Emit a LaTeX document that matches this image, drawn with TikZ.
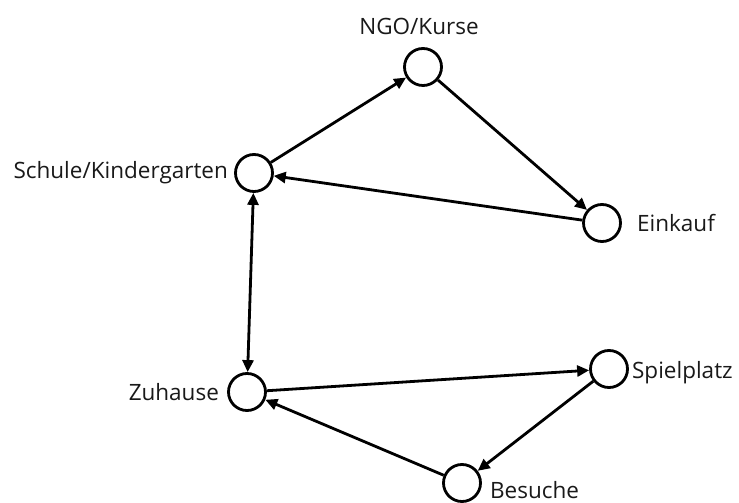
\documentclass[tikz,border=0pt]{standalone}
\usepackage{fontspec}
\setmainfont{Open Sans}
\usepackage{tikz}
\usetikzlibrary{arrows.meta, positioning}

\begin{document}
\begin{tikzpicture}[
    x=1pt, y=1pt,
    place/.style={draw, circle, line width=2.8pt, minimum size=37pt, inner sep=0pt, fill=white},
    lbl/.style={font=\fontsize{22.5}{27}\selectfont, inner sep=0pt, text=black!90},
    edge/.style={-{Triangle[length=12pt, width=11pt]}, line width=2.8pt},
    both/.style={{Triangle[length=12pt, width=11pt]}-{Triangle[length=12pt, width=11pt]}, line width=2.8pt}
]
    \useasboundingbox (0, 0) rectangle (739, 503);

    % Places
    \node[place] (ngo) at (423, 436) {};
    \node[place] (schule) at (254, 330) {};
    \node[place] (einkauf) at (602, 280) {};
    \node[place] (zuhause) at (247, 111) {};
    \node[place] (spiel) at (609, 134) {};
    \node[place] (besuche) at (462, 20) {};

    % Labels
    \node[lbl, above=12pt of ngo, xshift=-4pt] (ngolbl) {NGO/Kurse};
    \node[lbl, left=6pt of schule] (schulelbl) {Schule/Kindergarten};
    \node[lbl, right=15pt of einkauf] (einkauflbl) {Einkauf};
    \node[lbl, left=8pt of zuhause] (zuhauselbl) {Zuhause};
    \node[lbl, right=3pt of spiel, yshift=-4pt] (spiellbl) {Spielplatz};
    \node[lbl, right=8pt of besuche, yshift=-7pt] (besuchelbl) {Besuche};

    % Arrows
    \draw[edge] (schule) -- (ngo);
    \draw[edge] (ngo) -- (einkauf);
    \draw[edge] (einkauf) -- (schule);
    \draw[both] (schule) -- (zuhause);
    \draw[edge] (zuhause) -- (spiel);
    \draw[edge] (spiel) -- (besuche);
    \draw[edge] (besuche) -- (zuhause);

\end{tikzpicture}
\end{document}
